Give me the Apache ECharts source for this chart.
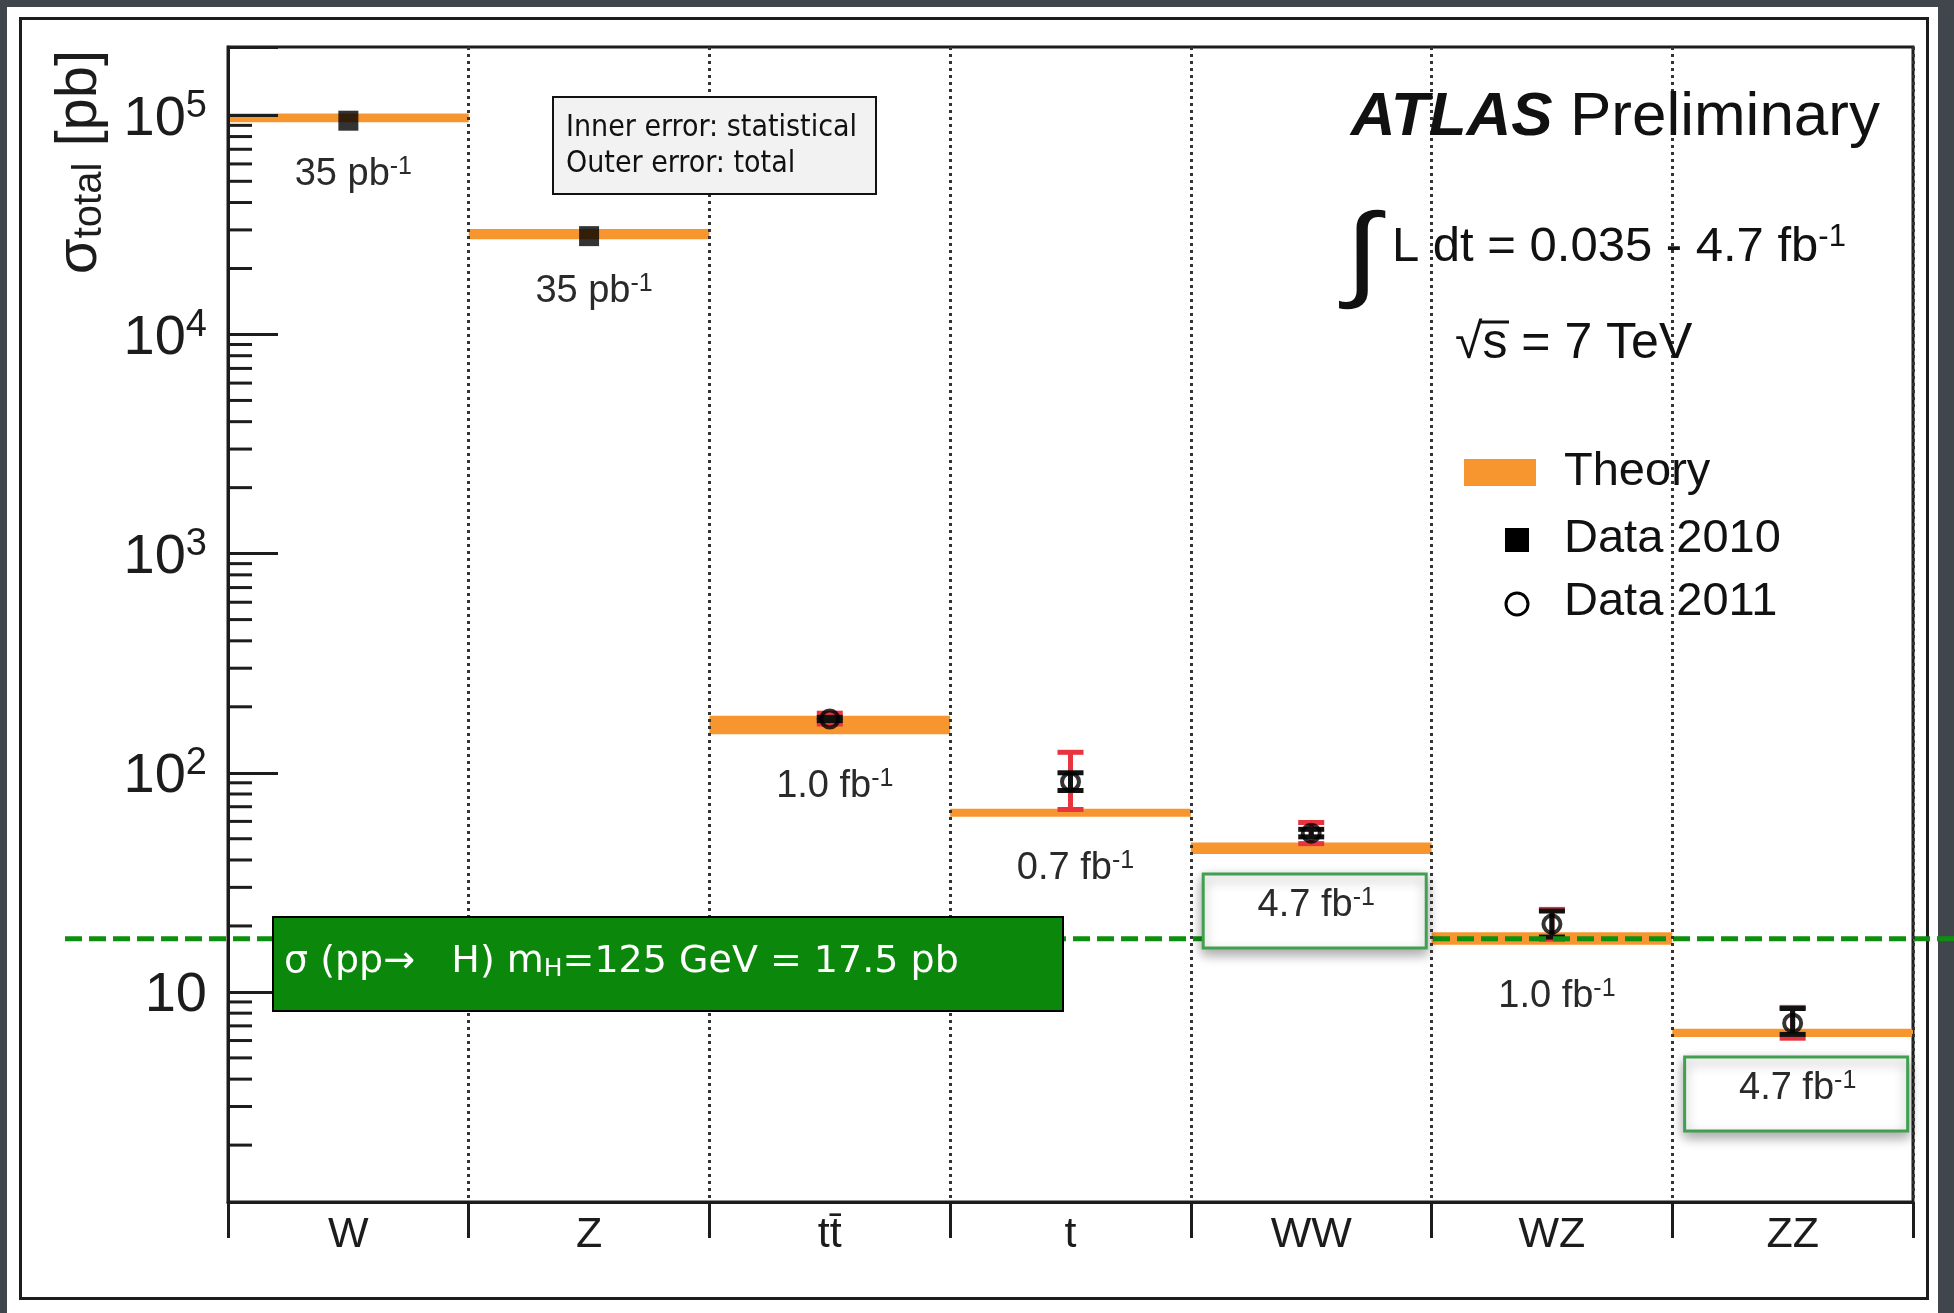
<!DOCTYPE html>
<html>
<head>
<meta charset="utf-8">
<script src="https://cdn.jsdelivr.net/npm/echarts@6/dist/echarts.min.js"></script>
<style>
  html, body { margin: 0; padding: 0; width: 1954px; height: 1313px; overflow: hidden; background: #41454c; }
  #sheet { position: absolute; left: 7px; top: 7px; width: 1931px; height: 1306px; background: #ffffff; }
  #frame { position: absolute; left: 19px; top: 17px; width: 1904px; height: 1277px; border: 3px solid #1c1c1c; }
  #chart { position: absolute; left: 0; top: 0; width: 1954px; height: 1313px; }
</style>
</head>
<body>
<div id="sheet"></div>
<div id="frame"></div>
<div id="chart"></div>
<script>
// Total cross sections of Standard Model processes at sqrt(s) = 7 TeV (pb)
const processes = ['W', 'Z', 'tt\u0304', 't', 'WW', 'WZ', 'ZZ'];

// Theory prediction bands (lower / upper edge)
const theoryLow  = [93000, 27200, 150, 63, 42.6, 16.4, 6.23];
const theoryHigh = [102000, 30300, 182, 68.5, 48.1, 18.7, 6.8];

// 2010 measurements (process index, value)
const data2010Index = [0, 1];
const data2010Value = [94500, 28100];

// 2011 measurements with statistical (inner) and total (outer) errors
const data2011Index = [2, 3, 4, 5, 6];
const data2011Value = [176, 91, 53, 20.4, 7.2];
const totalErrLow   = [167, 68, 47.5, 17.4, 6.15];
const totalErrHigh  = [187, 124, 59.3, 23.8, 8.5];
const statErrLow    = [173, 83, 51, 17.8, 6.4];
const statErrHigh   = [179, 100, 55.2, 23.4, 8.4];

// Integrated luminosity used for each measurement
const lumiText  = ['35 pb', '35 pb', '1.0 fb', '0.7 fb', '4.7 fb', '1.0 fb', '4.7 fb'];
const lumiBoxed = [false, false, false, false, true, false, true];

// Log axis range and minor tick values
const yMin = 1.1;
const yMax = 2.05e5;
const yMinorTicks = [2, 3, 4, 5, 6, 7, 8, 9,
  20, 30, 40, 50, 60, 70, 80, 90,
  200, 300, 400, 500, 600, 700, 800, 900,
  2000, 3000, 4000, 5000, 6000, 7000, 8000, 9000,
  20000, 30000, 40000, 50000, 60000, 70000, 80000, 90000];

// Higgs production cross section reference line
const higgsXsec = 17.5;
const higgsLabel = '\u03c3 (pp\u2192   H) m';

const FONT = "'Liberation Sans', Arial, Helvetica, sans-serif";
const NOTE_FONT = "'DejaVu Sans Condensed', 'DejaVu Sans', sans-serif";
const INK = '#1c1c1c';
const ORANGE = '#f7962f';
const RED = '#e8343f';

const chart = echarts.init(document.getElementById('chart'), null, { renderer: 'canvas' });

function yLabel(v) {
  const e = Math.log10(v);
  const r = Math.round(e);
  if (Math.abs(e - r) > 1e-6) return '';
  return r === 1 ? '{m|10}' : '{m|10}{s|' + r + '}';
}

const option = {
  backgroundColor: 'transparent',
  animation: false,
  textStyle: { fontFamily: FONT },
  grid: {
    left: 228, right: 41, top: 47, bottom: 111,
    show: true, borderColor: INK, borderWidth: 3, backgroundColor: 'transparent'
  },
  xAxis: {
    type: 'category',
    data: processes,
    boundaryGap: true,
    z: 10,
    axisLine: { show: true, lineStyle: { color: INK, width: 3 } },
    axisTick: { show: true, inside: false, length: 36, interval: 0, lineStyle: { color: INK, width: 3 } },
    axisLabel: { fontSize: 43, color: INK, fontFamily: FONT, margin: 12, interval: 0 },
    splitLine: { show: true, interval: 0, lineStyle: { color: '#333', width: 3, type: [3, 4] } }
  },
  yAxis: {
    type: 'log',
    logBase: 10,
    min: yMin,
    max: yMax,
    z: 10,
    axisLine: { show: true, lineStyle: { color: INK, width: 3 } },
    axisTick: { show: true, inside: true, length: 50, lineStyle: { color: INK, width: 3 } },
    splitLine: { show: false },
    minorTick: { show: false },
    axisLabel: {
      margin: 21,
      color: INK,
      formatter: yLabel,
      rich: {
        m: { fontSize: 56, fontFamily: FONT, color: INK, lineHeight: 56, padding: [8, 0, 0, 0] },
        s: { fontSize: 38, fontFamily: FONT, color: INK, lineHeight: 22, verticalAlign: 'top' }
      }
    }
  },
  series: [
    {
      // theory bands spanning each process bin
      name: 'Theory',
      type: 'custom',
      z: 2,
      data: processes.map((p, i) => [i, theoryLow[i], theoryHigh[i]]),
      encode: { x: 0, y: [1, 2] },
      renderItem: (params, api) => {
        const lo = api.coord([api.value(0), api.value(1)]);
        const hi = api.coord([api.value(0), api.value(2)]);
        const w = api.size([1, 0])[0];
        return {
          type: 'rect',
          shape: { x: lo[0] - w / 2, y: hi[1], width: w, height: lo[1] - hi[1] },
          style: { fill: ORANGE }
        };
      }
    },
    {
      // minor ticks of the log axis at 2..9 x 10^k
      type: 'custom',
      silent: true,
      z: 11,
      data: yMinorTicks.map(v => [0, v]),
      encode: { x: 0, y: 1 },
      renderItem: (params, api) => {
        const y = api.coord([0, api.value(1)])[1];
        const x0 = params.coordSys.x;
        return { type: 'line', shape: { x1: x0, y1: y, x2: x0 + 24, y2: y }, style: { stroke: INK, lineWidth: 3 } };
      }
    },
    {
      // total (red) and statistical (black) error bars
      type: 'custom',
      z: 4,
      data: data2011Index.map((c, i) => [c, totalErrLow[i], totalErrHigh[i], statErrLow[i], statErrHigh[i]]),
      encode: { x: 0, y: [1, 2, 3, 4] },
      renderItem: (params, api) => {
        const x = api.value(0);
        const o1 = api.coord([x, api.value(1)]);
        const o2 = api.coord([x, api.value(2)]);
        const i1 = api.coord([x, api.value(3)]);
        const i2 = api.coord([x, api.value(4)]);
        const cx = o1[0];
        const cap = 13;
        const seg = (xa, ya, xb, yb, c) => ({ type: 'line', shape: { x1: xa, y1: ya, x2: xb, y2: yb }, style: { stroke: c, lineWidth: 5 } });
        return {
          type: 'group',
          children: [
            seg(cx, o1[1], cx, o2[1], RED),
            seg(cx - cap, o1[1], cx + cap, o1[1], RED),
            seg(cx - cap, o2[1], cx + cap, o2[1], RED),
            seg(cx, i1[1], cx, i2[1], '#111'),
            seg(cx - cap, i1[1], cx + cap, i1[1], '#111'),
            seg(cx - cap, i2[1], cx + cap, i2[1], '#111')
          ]
        };
      }
    },
    {
      name: 'Data 2010',
      type: 'scatter',
      z: 5,
      symbol: 'rect',
      symbolSize: 20,
      itemStyle: { color: '#000' },
      data: data2010Index.map((c, i) => [c, data2010Value[i]])
    },
    {
      name: 'Data 2011',
      type: 'scatter',
      z: 5,
      symbol: 'circle',
      symbolSize: 17,
      itemStyle: { color: 'rgba(0,0,0,0)', borderColor: '#000', borderWidth: 4 },
      data: data2011Index.map((c, i) => [c, data2011Value[i]])
    },
    {
      // Higgs cross-section reference line, running across the whole sheet
      type: 'custom',
      z: 7,
      clip: false,
      silent: true,
      data: [[0, higgsXsec]],
      encode: { x: 0, y: 1 },
      renderItem: (params, api) => {
        const y = api.coord([0, api.value(1)])[1];
        const x0 = params.coordSys.x;
        return {
          type: 'line',
          shape: { x1: x0 - 163, y1: y, x2: x0 + params.coordSys.width + 41, y2: y },
          style: { stroke: '#0f8f0f', lineWidth: 5, lineDash: [17, 7] }
        };
      }
    },
    {
      // integrated luminosity labels below each theory band
      type: 'custom',
      z: 8,
      silent: true,
      data: processes.map((p, i) => [i, theoryLow[i]]),
      encode: { x: 0, y: 1 },
      renderItem: (params, api) => {
        const i = params.dataIndex;
        const p = api.coord([api.value(0), api.value(1)]);
        const tx = p[0] + 5;
        const ty = p[1] + 52;
        const children = [];
        if (lumiBoxed[i]) {
          children.push({
            type: 'rect',
            shape: { x: tx - 113, y: ty - 32, width: 223, height: 74 },
            style: { fill: '#ffffff', stroke: '#40a050', lineWidth: 3, shadowBlur: 12, shadowColor: 'rgba(0,0,0,0.35)', shadowOffsetY: 5 }
          });
        }
        children.push({
          type: 'text',
          x: tx,
          y: ty,
          style: {
            text: '{a|' + lumiText[i] + '}{s|-1}',
            align: 'center',
            verticalAlign: 'middle',
            rich: {
              a: { fontSize: 38, fontFamily: FONT, fill: '#2a2a2a', lineHeight: 40 },
              s: { fontSize: 25, fontFamily: FONT, fill: '#2a2a2a', lineHeight: 16, verticalAlign: 'top' }
            }
          }
        });
        return { type: 'group', children: children };
      }
    }
  ],
  graphic: [
    {
      // axis title
      type: 'text', x: 80, y: 162, rotation: Math.PI / 2, z: 100,
      style: {
        text: '{a|\u03c3}{b|total}{a| [pb]}',
        align: 'center', verticalAlign: 'middle',
        rich: {
          a: { fontSize: 58, fontFamily: FONT, fill: INK, lineHeight: 60 },
          b: { fontSize: 40, fontFamily: FONT, fill: INK, lineHeight: 14, verticalAlign: 'bottom' }
        }
      }
    },
    {
      type: 'text', x: 1880, y: 118, z: 100,
      style: {
        text: '{a|ATLAS}{b| Preliminary}',
        align: 'right', verticalAlign: 'middle',
        rich: {
          a: { fontSize: 62, fontFamily: FONT, fontStyle: 'italic', fontWeight: 'bold', fill: '#111' },
          b: { fontSize: 62, fontFamily: FONT, fill: '#111' }
        }
      }
    },
    {
      type: 'text', x: 1362, y: 258, z: 100, scaleY: 1.05, scaleX: 1.25,
      style: { text: '\u222b', fontSize: 100, fontFamily: FONT, fill: '#111', align: 'center', verticalAlign: 'middle' }
    },
    {
      type: 'text', x: 1392, y: 247, z: 100,
      style: {
        text: '{a|L dt = 0.035 - 4.7 fb}{s|-1}',
        align: 'left', verticalAlign: 'middle',
        rich: {
          a: { fontSize: 49, fontFamily: FONT, fill: '#111', lineHeight: 50 },
          s: { fontSize: 31, fontFamily: FONT, fill: '#111', lineHeight: 18, verticalAlign: 'top' }
        }
      }
    },
    {
      type: 'text', x: 1455, y: 344, z: 100,
      style: { text: '\u221as = 7 TeV', fontSize: 50, fontFamily: FONT, fill: '#111', align: 'left', verticalAlign: 'middle' }
    },
    { type: 'line', z: 100, shape: { x1: 1480, y1: 322, x2: 1509, y2: 322 }, style: { stroke: '#111', lineWidth: 3 } },
    // legend
    { type: 'rect', z: 100, shape: { x: 1464, y: 459, width: 72, height: 27 }, style: { fill: ORANGE } },
    { type: 'text', x: 1564, y: 472, z: 100, style: { text: 'Theory', fontSize: 47, fontFamily: FONT, fill: '#111', verticalAlign: 'middle' } },
    { type: 'rect', z: 100, shape: { x: 1505, y: 528, width: 24, height: 24 }, style: { fill: '#000' } },
    { type: 'text', x: 1564, y: 539, z: 100, style: { text: 'Data 2010', fontSize: 47, fontFamily: FONT, fill: '#111', verticalAlign: 'middle' } },
    { type: 'circle', z: 100, shape: { cx: 1517, cy: 604, r: 11 }, style: { fill: 'rgba(0,0,0,0)', stroke: '#000', lineWidth: 3 } },
    { type: 'text', x: 1564, y: 602, z: 100, style: { text: 'Data 2011', fontSize: 47, fontFamily: FONT, fill: '#111', verticalAlign: 'middle' } },
    // error legend box
    { type: 'rect', z: 100, shape: { x: 553, y: 97, width: 323, height: 97 }, style: { fill: '#f2f2f2', stroke: '#111', lineWidth: 2 } },
    { type: 'text', x: 566, y: 128, z: 101, style: { text: 'Inner error: statistical', fontSize: 30, fontFamily: NOTE_FONT, fill: '#111', verticalAlign: 'middle' } },
    { type: 'text', x: 566, y: 164, z: 101, style: { text: 'Outer error: total', fontSize: 30, fontFamily: NOTE_FONT, fill: '#111', verticalAlign: 'middle' } },
    // Higgs annotation
    { type: 'rect', z: 100, shape: { x: 273, y: 917, width: 790, height: 94 }, style: { fill: '#0b870b', stroke: '#000', lineWidth: 2 } },
    {
      type: 'text', x: 284, y: 962, z: 101,
      style: {
        text: '{a|' + higgsLabel + '}{b|H}{a|=125 GeV = ' + higgsXsec + ' pb}',
        align: 'left', verticalAlign: 'middle',
        rich: {
          a: { fontSize: 38, fontFamily: "'DejaVu Sans', sans-serif", fill: '#ffffff', lineHeight: 40 },
          b: { fontSize: 25, fontFamily: "'DejaVu Sans', sans-serif", fill: '#ffffff', lineHeight: 14, verticalAlign: 'bottom' }
        }
      }
    }
  ]
};

chart.setOption(option);
</script>
</body>
</html>
